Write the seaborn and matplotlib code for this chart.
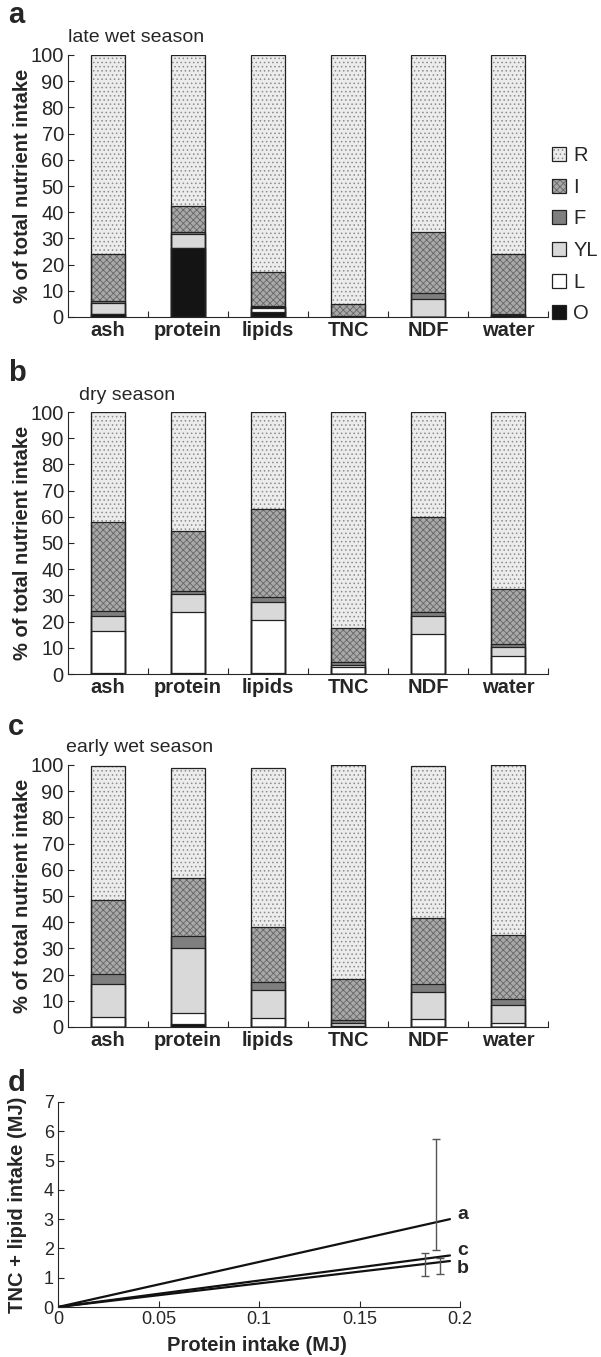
import numpy as np
import matplotlib
matplotlib.use('Agg')
import matplotlib.pyplot as plt
import seaborn as sns
from matplotlib.patches import Patch

nutrients = ['ash', 'protein', 'lipids', 'TNC', 'NDF', 'water']
layers = ['O', 'L', 'YL', 'F', 'I', 'R']  # bottom -> top of each bar

# a: late wet season (% of total intake per plant part)
late_O = [1.0, 26.5, 2.0, 0.0, 0.0, 0.8]
late_L = [0.0, 0.0, 1.5, 0.0, 0.0, 0.0]
late_YL = [4.5, 5.0, 0.3, 0.0, 7.0, 0.0]
late_F = [0.5, 1.0, 0.5, 0.3, 2.0, 0.3]
late_I = [18.0, 10.0, 12.7, 4.7, 23.3, 22.9]
late_R = [76.0, 57.5, 83.0, 95.0, 67.7, 76.0]

# b: dry season
dry_O = [0.5, 0.5, 0.5, 0.0, 0.0, 0.0]
dry_L = [16.0, 23.0, 20.0, 2.5, 15.4, 6.7]
dry_YL = [5.5, 7.0, 7.0, 1.0, 6.6, 3.6]
dry_F = [2.0, 1.0, 2.0, 1.0, 1.5, 1.3]
dry_I = [34.0, 23.0, 33.5, 13.0, 36.5, 21.0]
dry_R = [42.0, 45.5, 37.0, 82.5, 40.0, 67.4]

# c: early wet season
early_O = [0.0, 1.3, 0.0, 0.0, 0.0, 0.0]
early_L = [4.0, 4.2, 3.5, 0.5, 3.0, 1.5]
early_YL = [12.5, 24.8, 10.7, 1.2, 10.5, 6.8]
early_F = [3.7, 4.3, 2.9, 0.8, 2.8, 2.3]
early_I = [28.1, 22.1, 21.2, 15.9, 25.2, 24.6]
early_R = [51.2, 42.0, 60.4, 81.6, 58.0, 64.8]

# d: regression lines (protein vs TNC + lipid intake)
line_x = [0.0, 0.195]
line_a = [0.0, 3.0]
line_c = [0.0, 1.76]
line_b = [0.0, 1.57]
err_x = [0.188, 0.190, 0.1824]
err_lo = [1.93, 1.14, 1.05]
err_hi = [5.72, 1.68, 1.85]

styles = {
    'R': dict(face='#ececec', hatch='....', hc='#8c8c8c'),
    'I': dict(face='#a8a8a8', hatch='xxxxx', hc='#666666'),
    'F': dict(face='#7f7f7f', hatch=None, hc='#7f7f7f'),
    'YL': dict(face='#d9d9d9', hatch=None, hc='#d9d9d9'),
    'L': dict(face='#ffffff', hatch=None, hc='#ffffff'),
    'O': dict(face='#141414', hatch=None, hc='#141414'),
}

sns.set_style('ticks')
plt.rcParams['font.family'] = ['Liberation Sans', 'DejaVu Sans']
plt.rcParams['hatch.linewidth'] = 0.6
edge = '#222222'

fig = plt.figure(figsize=(6.01, 13.57), dpi=100)


def stacked(ax, parts):
    cum = np.cumsum(np.array(parts), axis=0)
    for i in range(len(layers) - 1, -1, -1):
        s = styles[layers[i]]
        sns.barplot(x=nutrients, y=cum[i], color=s['face'], hatch=s['hatch'],
                    edgecolor=s['hc'], linewidth=0, width=0.42, saturation=1,
                    errorbar=None, ax=ax)
    for i in range(len(layers) - 1, -1, -1):
        sns.barplot(x=nutrients, y=cum[i], fill=False, color=edge, linewidth=0.9,
                    width=0.42, saturation=1, errorbar=None, ax=ax)
    ax.set_xlim(-0.5, 5.5)
    ax.set_ylim(0, 100)
    ax.set_yticks(range(0, 101, 10))
    ax.set_xticks(np.arange(0.5, 6, 1), minor=True)
    ax.tick_params(axis='x', which='major', length=0, pad=3, labelsize=14.5)
    ax.tick_params(axis='x', which='minor', direction='in', length=4, width=0.8)
    ax.tick_params(axis='y', direction='in', length=4, width=0.8, pad=3, labelsize=14.5)
    for lab in ax.get_xticklabels():
        lab.set_fontweight('bold')
    ax.set_xlabel('')
    ax.set_ylabel('% of total nutrient intake', fontsize=14.5, fontweight='bold')
    ax.yaxis.set_label_coords(-0.075, 0.5)
    sns.despine(ax=ax)
    for sp in ax.spines.values():
        sp.set_linewidth(0.8)


W, H = 601, 1357
panels = [
    ([late_O, late_L, late_YL, late_F, late_I, late_R], 317, 'a', 'late wet season', 68, 37, 15),
    ([dry_O, dry_L, dry_YL, dry_F, dry_I, dry_R], 674, 'b', 'dry season', 79, 395, 373),
    ([early_O, early_L, early_YL, early_F, early_I, early_R], 1027, 'c', 'early wet season', 66, 748, 727),
]
axes = []
for parts, base, letter, title, tx, ty, ly in panels:
    ax = fig.add_axes([68 / W, 1 - base / H, 480 / W, 262 / H])
    stacked(ax, parts)
    fig.text(tx / W, 1 - ty / H, title, fontsize=14, va='center', ha='left')
    fig.text(8 / W, 1 - ly / H, letter, fontsize=21, fontweight='bold', va='center')
    axes.append(ax)

handles = []
for key in layers[::-1]:
    s = styles[key]
    handles.append((Patch(facecolor=s['face'], edgecolor=s['hc'], hatch=s['hatch'], lw=0),
                    Patch(fill=False, edgecolor=edge, lw=0.9)))
axes[0].legend(handles, layers[::-1], loc='upper left', bbox_to_anchor=(552 / W, 1 - 146 / H),
               bbox_transform=fig.transFigure, frameon=False, fontsize=14.5,
               handlelength=0.7, handleheight=0.7, handletextpad=0.35,
               labelspacing=0.63, borderpad=0, borderaxespad=0)

# panel d
axd = fig.add_axes([58 / W, 1 - 1307 / H, 402 / W, 205 / H])
for ys, lab in [(line_a, 'a'), (line_c, 'c'), (line_b, 'b')]:
    sns.lineplot(x=line_x, y=ys, color='#111111', linewidth=1.6, ax=axd)
err_mid = [(lo + hi) / 2 for lo, hi in zip(err_lo, err_hi)]
err_half = [(hi - lo) / 2 for lo, hi in zip(err_lo, err_hi)]
axd.errorbar(err_x, err_mid, yerr=err_half, fmt='none', ecolor='#555555',
             elinewidth=1.0, capsize=3, capthick=1.0)
axd.text(0.1985, 3.15, 'a', fontsize=14, fontweight='bold', va='center')
axd.text(0.1985, 1.93, 'c', fontsize=14, fontweight='bold', va='center')
axd.text(0.1985, 1.31, 'b', fontsize=14, fontweight='bold', va='center')
axd.set_xlim(0, 0.2)
axd.set_ylim(0, 7)
axd.set_xticks([0, 0.05, 0.1, 0.15, 0.2])
axd.set_xticklabels(['0', '0.05', '0.1', '0.15', '0.2'])
axd.set_yticks(range(0, 8))
axd.tick_params(direction='in', length=4, width=0.8, pad=3, labelsize=13)
axd.set_xlabel('Protein intake (MJ)', fontsize=14.5, fontweight='bold')
axd.set_ylabel('TNC + lipid intake (MJ)', fontsize=14.5, fontweight='bold')
axd.yaxis.set_label_coords(-0.077, 0.5)
axd.xaxis.set_label_coords(0.495, -0.14)
sns.despine(ax=axd)
for sp in axd.spines.values():
    sp.set_linewidth(0.8)
fig.text(8 / W, 1 - 1083 / H, 'd', fontsize=21, fontweight='bold', va='center')

fig.savefig('out.png', dpi=100)
